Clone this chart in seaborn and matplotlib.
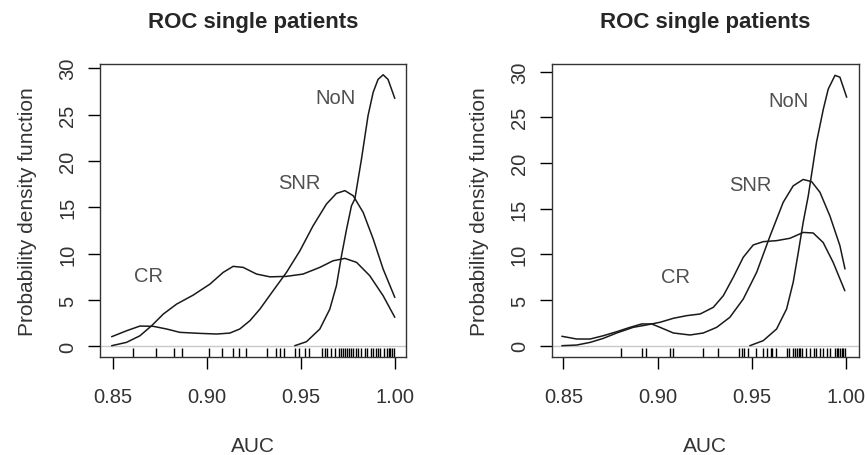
import numpy as np
import pandas as pd
import seaborn as sns
import matplotlib
matplotlib.use("Agg")
import matplotlib.pyplot as plt

sns.set_style("white")
plt.rcParams["font.family"] = ["Liberation Sans", "DejaVu Sans"]

# ---- left panel: density curves ----
left_snr_x = [0.8495, 0.8574, 0.8645, 0.8716, 0.8787, 0.8857, 0.8963, 0.9052, 0.9122, 0.9175,
              0.9229, 0.9282, 0.9352, 0.9423, 0.9494, 0.9564, 0.9635, 0.9688, 0.9733, 0.9777,
              0.9830, 0.9883, 0.9936, 0.9998]
left_snr_y = [1.04, 1.68, 2.19, 2.16, 1.87, 1.51, 1.40, 1.33, 1.43, 1.87,
              2.77, 4.02, 6.00, 7.98, 10.3, 13.0, 15.35, 16.5, 16.8, 16.25,
              14.45, 11.6, 8.34, 5.28]

left_cr_x = [0.8495, 0.8574, 0.8645, 0.8707, 0.8769, 0.8840, 0.8928, 0.9017, 0.9087, 0.9140,
             0.9193, 0.9264, 0.9335, 0.9423, 0.9511, 0.9600, 0.9670, 0.9733, 0.9795, 0.9865,
             0.9936, 0.9998]
left_cr_y = [0.07, 0.43, 1.14, 2.22, 3.48, 4.56, 5.53, 6.72, 7.98, 8.63,
             8.52, 7.80, 7.50, 7.55, 7.80, 8.52, 9.23, 9.49, 9.06, 7.62,
             5.46, 3.13]

left_non_x = [0.9467, 0.9529, 0.9600, 0.9653, 0.9688, 0.9715, 0.9742, 0.9768, 0.9786, 0.9821,
              0.9856, 0.9883, 0.9909, 0.9936, 0.9962, 0.9998]
left_non_y = [0.07, 0.5, 1.87, 4.02, 6.54, 9.77, 12.65, 15.17, 15.9, 20.2,
              24.9, 27.4, 28.8, 29.3, 28.8, 26.75]

left_rug = [0.861, 0.873, 0.8825, 0.887, 0.901, 0.908, 0.914, 0.917, 0.921, 0.932, 0.937,
            0.939, 0.941, 0.947, 0.949, 0.952, 0.954, 0.961, 0.963, 0.964, 0.966, 0.968,
            0.970, 0.9715, 0.9725, 0.9735, 0.9745, 0.9755, 0.9765, 0.9775, 0.979, 0.980,
            0.982, 0.984, 0.985, 0.987, 0.988, 0.990, 0.991, 0.992, 0.994, 0.9955, 0.9965,
            0.9975, 0.9985, 0.9995]

# ---- right panel ----
right_snr_x = [0.8492, 0.8571, 0.8642, 0.8712, 0.8783, 0.8854, 0.8916, 0.8969, 0.9013, 0.9084,
               0.9172, 0.9243, 0.9314, 0.9384, 0.9455, 0.9526, 0.9597, 0.9667, 0.9720, 0.9773,
               0.9818, 0.9862, 0.9915, 0.9968, 0.9995]
right_snr_y = [1.03, 0.73, 0.73, 1.09, 1.53, 2.01, 2.38, 2.38, 2.01, 1.39,
               1.17, 1.39, 2.01, 3.11, 5.11, 8.03, 12.0, 15.7, 17.5, 18.2,
               17.96, 16.8, 14.2, 10.95, 8.4]

right_cr_x = [0.8492, 0.8571, 0.8642, 0.8712, 0.8783, 0.8871, 0.8942, 0.9013, 0.9084, 0.9155,
              0.9226, 0.9296, 0.9349, 0.9402, 0.9455, 0.9508, 0.9561, 0.9632, 0.9703, 0.9773,
              0.9826, 0.9879, 0.9932, 0.9994]
right_cr_y = [0.0, 0.07, 0.36, 0.80, 1.39, 2.01, 2.27, 2.56, 3.00, 3.29,
              3.47, 4.20, 5.47, 7.49, 9.68, 11.03, 11.39, 11.5, 11.76, 12.4,
              12.34, 11.3, 9.13, 6.02]

right_non_x = [0.9490, 0.9561, 0.9632, 0.9685, 0.9720, 0.9747, 0.9773, 0.9800, 0.9844, 0.9880,
               0.9906, 0.9942, 0.9968, 1.0004]
right_non_y = [0.0, 0.55, 1.83, 4.02, 6.94, 10.2, 13.5, 16.4, 22.3, 25.9,
               28.1, 29.6, 29.4, 27.2]

right_rug = [0.8806, 0.892, 0.894, 0.9066, 0.908, 0.924, 0.932, 0.943, 0.945, 0.946, 0.948,
             0.952, 0.956, 0.958, 0.960, 0.961, 0.963, 0.9685, 0.970, 0.972, 0.973, 0.974,
             0.975, 0.9755, 0.9765, 0.979, 0.981, 0.983, 0.984, 0.986, 0.988, 0.990, 0.9915,
             0.994, 0.995, 0.996, 0.997, 0.998, 0.9986, 0.9995]

x_ticks = [0.85, 0.90, 0.95, 1.00]
y_ticks = [0, 5, 10, 15, 20, 25, 30]

panels = [
    {"curves": [(left_snr_x, left_snr_y), (left_cr_x, left_cr_y), (left_non_x, left_non_y)],
     "rug": left_rug,
     "labels": [("CR", 0.869, 7.6), ("SNR", 0.949, 17.7), ("NoN", 0.9685, 26.8)],
     "pos": [0.1153, 0.2149, 0.3529, 0.6425],
     "xlim": (0.8433, 1.0057), "ylim": (-1.15, 30.46)},
    {"curves": [(right_snr_x, right_snr_y), (right_cr_x, right_cr_y), (right_non_x, right_non_y)],
     "rug": right_rug,
     "labels": [("CR", 0.9096, 7.55), ("SNR", 0.949, 17.6), ("NoN", 0.9694, 26.8)],
     "pos": [0.6363, 0.2149, 0.3544, 0.6425],
     "xlim": (0.8438, 1.0069), "ylim": (-1.24, 30.84)},
]

fig = plt.figure(figsize=(8.67, 4.56), dpi=100)

for p in panels:
    ax = fig.add_axes(p["pos"])
    ax.axhline(0, color="#c8c8c8", lw=1.0, zorder=1)
    for cx, cy in p["curves"]:
        df = pd.DataFrame({"AUC": cx, "density": cy})
        sns.lineplot(data=df, x="AUC", y="density", sort=False, color="#1a1a1a",
                     lw=1.1, ax=ax, zorder=3)
    sns.rugplot(x=p["rug"], height=0.03, color="black", lw=1.0, ax=ax)
    for txt, tx, ty in p["labels"]:
        ax.text(tx, ty, txt, ha="center", va="center", fontsize=14.5, color="#505050")

    ax.set_xlim(*p["xlim"])
    ax.set_ylim(*p["ylim"])
    ax.set_xticks(x_ticks)
    ax.set_xticklabels(["0.85", "0.90", "0.95", "1.00"])
    ax.set_yticks(y_ticks)
    ax.set_yticklabels([str(v) for v in y_ticks], rotation=90, va="center")
    ax.tick_params(axis="both", direction="out", length=8.5, width=1.0,
                   labelsize=14.5, colors="black", labelcolor="#333333",
                   bottom=True, left=True)
    ax.tick_params(axis="x", pad=13)
    ax.tick_params(axis="y", pad=8)
    for sp in ax.spines.values():
        sp.set_visible(True)
        sp.set_color("#333333")
        sp.set_linewidth(1.0)
    ax.set_xlabel("AUC", fontsize=15, color="#333333", labelpad=22)
    ax.set_ylabel("Probability density function", fontsize=15, color="#333333", labelpad=15)
    ax.set_title("ROC single patients", fontsize=16, fontweight="bold", pad=27)

fig.savefig("out.png", dpi=100)
